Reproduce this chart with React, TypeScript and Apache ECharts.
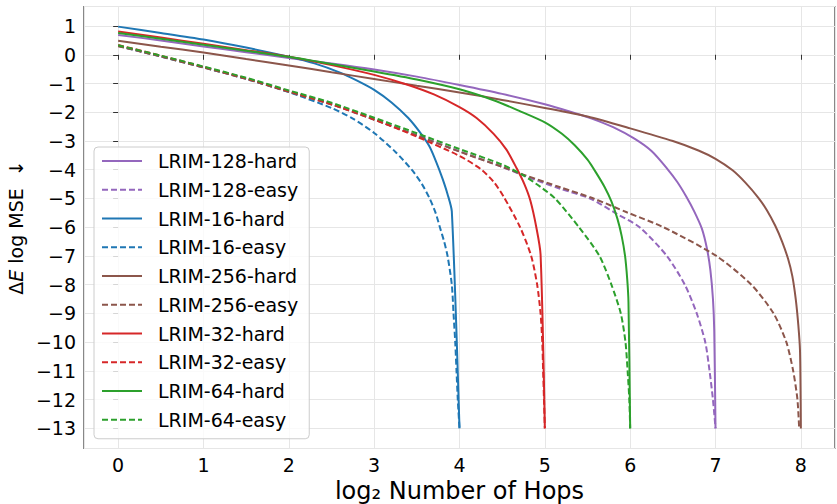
import React, { useEffect, useRef } from "react";
import * as echarts from "echarts";

// ---- Data (x = log2 number of hops, y = ΔE log MSE) ----
const lrim128Hard: [number, number][] = [
  [0, 0.69], [0.5, 0.5], [1, 0.29], [1.5, 0.09], [2, -0.11], [2.5, -0.3], [3, -0.51], [3.5, -0.76],
  [4, -1.05], [4.5, -1.36], [5, -1.72], [5.3, -1.98], [5.55, -2.22], [5.8, -2.52], [6.05, -2.92],
  [6.25, -3.35], [6.43, -3.95], [6.55, -4.42], [6.66, -4.95], [6.75, -5.45], [6.84, -6.05],
  [6.9, -6.75], [6.94, -7.5], [6.97, -8.5], [6.985, -9.6], [7.0, -13],
];
const lrim128Easy: [number, number][] = [
  [0, 0.31], [0.5, -0.05], [1, -0.43], [1.5, -0.83], [2, -1.28], [2.5, -1.72], [3, -2.25],
  [3.5, -2.8], [4, -3.36], [4.5, -3.9], [4.75, -4.2], [5.18, -4.66], [5.53, -5.0], [5.84, -5.53],
  [6.11, -6.0], [6.43, -7.0], [6.64, -8.0], [6.78, -9.0], [6.88, -10.0], [6.93, -11.0],
  [6.97, -12.0], [7.0, -13],
];
const lrim16Hard: [number, number][] = [
  [0, 0.98], [0.5, 0.76], [1, 0.53], [1.5, 0.25], [2, -0.07], [2.3, -0.3], [2.6, -0.62],
  [2.8, -0.9], [3.0, -1.22], [3.2, -1.65], [3.4, -2.2], [3.55, -2.75], [3.65, -3.2],
  [3.73, -3.75], [3.8, -4.3], [3.86, -4.85], [3.91, -5.45], [4.0, -13],
];
const lrim16Easy: [number, number][] = [
  [0, 0.31], [0.5, -0.06], [1, -0.44], [1.5, -0.84], [2, -1.3], [2.5, -1.85], [2.75, -2.22],
  [3.0, -2.72], [3.25, -3.38], [3.44, -4.0], [3.56, -4.5], [3.65, -5.0], [3.72, -5.5],
  [3.77, -6.0], [3.82, -6.5], [3.86, -7.0], [3.91, -8.0], [3.93, -9.0], [3.95, -10.0],
  [3.965, -11.0], [3.98, -12.0], [4.0, -13],
];
const lrim256Hard: [number, number][] = [
  [0, 0.49], [0.5, 0.28], [1, 0.08], [1.5, -0.15], [2, -0.37], [2.5, -0.61], [3, -0.84],
  [3.5, -1.08], [4, -1.31], [4.5, -1.57], [5, -1.85], [5.5, -2.15], [6, -2.56], [6.5, -3.0],
  [6.8, -3.33], [7.0, -3.62], [7.2, -4.02], [7.35, -4.45], [7.5, -4.97], [7.6, -5.4],
  [7.7, -5.95], [7.78, -6.5], [7.85, -7.1], [7.9, -7.7], [7.94, -8.5], [7.97, -9.4],
  [7.99, -10.3], [8.0, -13],
];
const lrim256Easy: [number, number][] = [
  [0, 0.3], [0.5, -0.06], [1, -0.44], [1.5, -0.84], [2, -1.29], [2.5, -1.73], [3, -2.26],
  [3.5, -2.81], [4, -3.37], [4.5, -3.9], [4.75, -4.17], [5.18, -4.61], [5.57, -5.0],
  [5.96, -5.48], [6.39, -6.0], [7.01, -7.0], [7.42, -8.0], [7.68, -9.0], [7.83, -10.0],
  [7.91, -11.0], [7.96, -12.0], [7.98, -13],
];
const lrim32Hard: [number, number][] = [
  [0, 0.81], [0.5, 0.6], [1, 0.38], [1.5, 0.16], [2, -0.07], [2.5, -0.36], [3.0, -0.7],
  [3.4, -1.05], [3.7, -1.38], [4.0, -1.82], [4.2, -2.2], [4.4, -2.75], [4.55, -3.3],
  [4.67, -3.95], [4.76, -4.5], [4.83, -5.07], [4.9, -6.0], [4.95, -6.95], [5.0, -13],
];
const lrim32Easy: [number, number][] = [
  [0, 0.34], [0.5, -0.03], [1, -0.42], [1.5, -0.82], [2, -1.27], [2.5, -1.72], [3, -2.25],
  [3.5, -2.85], [4, -3.52], [4.25, -3.98], [4.4, -4.42], [4.52, -4.95], [4.71, -6.0],
  [4.84, -7.0], [4.91, -8.0], [4.95, -9.0], [4.97, -10.0], [4.98, -11.0], [4.99, -12.0],
  [5.0, -13],
];
const lrim64Hard: [number, number][] = [
  [0, 0.76], [0.5, 0.56], [1, 0.35], [1.5, 0.14], [2, -0.07], [2.5, -0.32], [3, -0.58],
  [3.5, -0.86], [4, -1.2], [4.4, -1.58], [4.7, -1.95], [5.0, -2.35], [5.2, -2.75],
  [5.35, -3.15], [5.5, -3.65], [5.6, -4.1], [5.7, -4.6], [5.78, -5.1], [5.85, -5.7],
  [5.9, -6.3], [5.94, -7.0], [5.965, -7.8], [5.98, -8.6], [6.0, -13],
];
const lrim64Easy: [number, number][] = [
  [0, 0.33], [0.5, -0.03], [1, -0.41], [1.5, -0.8], [2, -1.24], [2.5, -1.67], [3, -2.19],
  [3.5, -2.73], [4, -3.28], [4.5, -3.82], [4.75, -4.2], [4.95, -4.6], [5.12, -5.0],
  [5.4, -6.0], [5.64, -7.0], [5.78, -8.0], [5.89, -9.0], [5.945, -10.0], [5.97, -11.0],
  [5.99, -12.0], [6.0, -13],
];

const seriesNames = [
  "LRIM-128-hard", "LRIM-128-easy", "LRIM-16-hard", "LRIM-16-easy", "LRIM-256-hard",
  "LRIM-256-easy", "LRIM-32-hard", "LRIM-32-easy", "LRIM-64-hard", "LRIM-64-easy",
];
const seriesData = [
  lrim128Hard, lrim128Easy, lrim16Hard, lrim16Easy, lrim256Hard,
  lrim256Easy, lrim32Hard, lrim32Easy, lrim64Hard, lrim64Easy,
];
const seriesColors = [
  "#9467bd", "#9467bd", "#1f77b4", "#1f77b4", "#8c564b",
  "#8c564b", "#d62728", "#d62728", "#2ca02c", "#2ca02c",
];

const FONT = "'DejaVu Sans', sans-serif";

export default function App() {
  const ref = useRef<HTMLDivElement>(null);
  useEffect(() => {
    if (!ref.current) return;
    const chart = echarts.init(ref.current, undefined, { renderer: "svg" });
    const fmt = (v: number) =>
      Number.isInteger(v) ? (v < 0 ? "\u2212" + String(-v) : String(v)) : "";
    chart.setOption({
      animation: false,
      backgroundColor: "#ffffff",
      grid: {
        left: 84,
        top: 6.5,
        width: 751,
        height: 442,
        outerBoundsMode: "none",
        containLabel: false,
        show: true,
        borderColor: "#3a3a3a",
        borderWidth: 1.2,
        backgroundColor: "transparent",
      },
      xAxis: {
        type: "value",
        min: -0.4,
        max: 8.4,
        minInterval: 1,
        maxInterval: 1,
        axisLine: { show: false },
        axisTick: { show: true, length: 5, lineStyle: { color: "#333", width: 1 } },
        axisLabel: {
          fontFamily: FONT,
          fontSize: 19,
          color: "#000",
          margin: 7,
          showMinLabel: false,
          showMaxLabel: false,
          formatter: fmt,
        },
        splitLine: { show: true, lineStyle: { color: "#e6e6e6", width: 1 } },
        name: "log\u2082 Number of Hops",
        nameLocation: "middle",
        nameGap: 26,
        nameTextStyle: { fontFamily: FONT, fontSize: 24, color: "#000" },
      },
      yAxis: {
        type: "value",
        min: -13.7,
        max: 1.68,
        minInterval: 1,
        maxInterval: 1,
        axisLine: { show: false },
        axisTick: { show: true, length: 5, lineStyle: { color: "#333", width: 1 } },
        axisLabel: {
          fontFamily: FONT,
          fontSize: 19,
          color: "#000",
          margin: 8,
          showMinLabel: false,
          showMaxLabel: false,
          formatter: fmt,
        },
        splitLine: { show: true, lineStyle: { color: "#e6e6e6", width: 1 } },
        name: "{n|\u0394}{i|E}{n| log MSE  \u2193}",
        nameLocation: "middle",
        nameRotate: 90,
        nameGap: 57,
        nameTextStyle: {
          rich: {
            n: { fontFamily: FONT, fontSize: 19, color: "#000" },
            i: { fontFamily: FONT, fontSize: 19, fontStyle: "italic", color: "#000" },
          },
        },
      },
      legend: {
        orient: "vertical",
        left: 94,
        top: 147,
        itemWidth: 40,
        itemHeight: 14,
        itemGap: 8.75,
        padding: [4, 11, 9, 7],
        backgroundColor: "rgba(255,255,255,0.8)",
        borderColor: "#cccccc",
        borderWidth: 1,
        borderRadius: 4,
        itemStyle: { color: "rgba(0,0,0,0)", borderWidth: 0, opacity: 0 },
        lineStyle: { opacity: 1 },
        textStyle: {
          fontFamily: FONT,
          fontSize: 19,
          color: "#000",
          lineHeight: 20,
          padding: [0, 0, 0, 11],
        },
        data: seriesNames,
      },
      series: seriesNames.map((name, i) => ({
        name,
        type: "line",
        data: seriesData[i],
        symbol: "none",
        showSymbol: false,
        smooth: 0.25,
        clip: true,
        lineStyle: {
          color: seriesColors[i],
          width: 2,
          type: name.endsWith("easy") ? [6, 3] : "solid",
        },
        itemStyle: { color: seriesColors[i] },
        z: 2 + i * 0.01,
      })),
    });
    return () => chart.dispose();
  }, []);
  return (
    <div
      ref={ref}
      style={{ position: "fixed", left: 0, top: 0, width: 837, height: 504 }}
    />
  );
}
